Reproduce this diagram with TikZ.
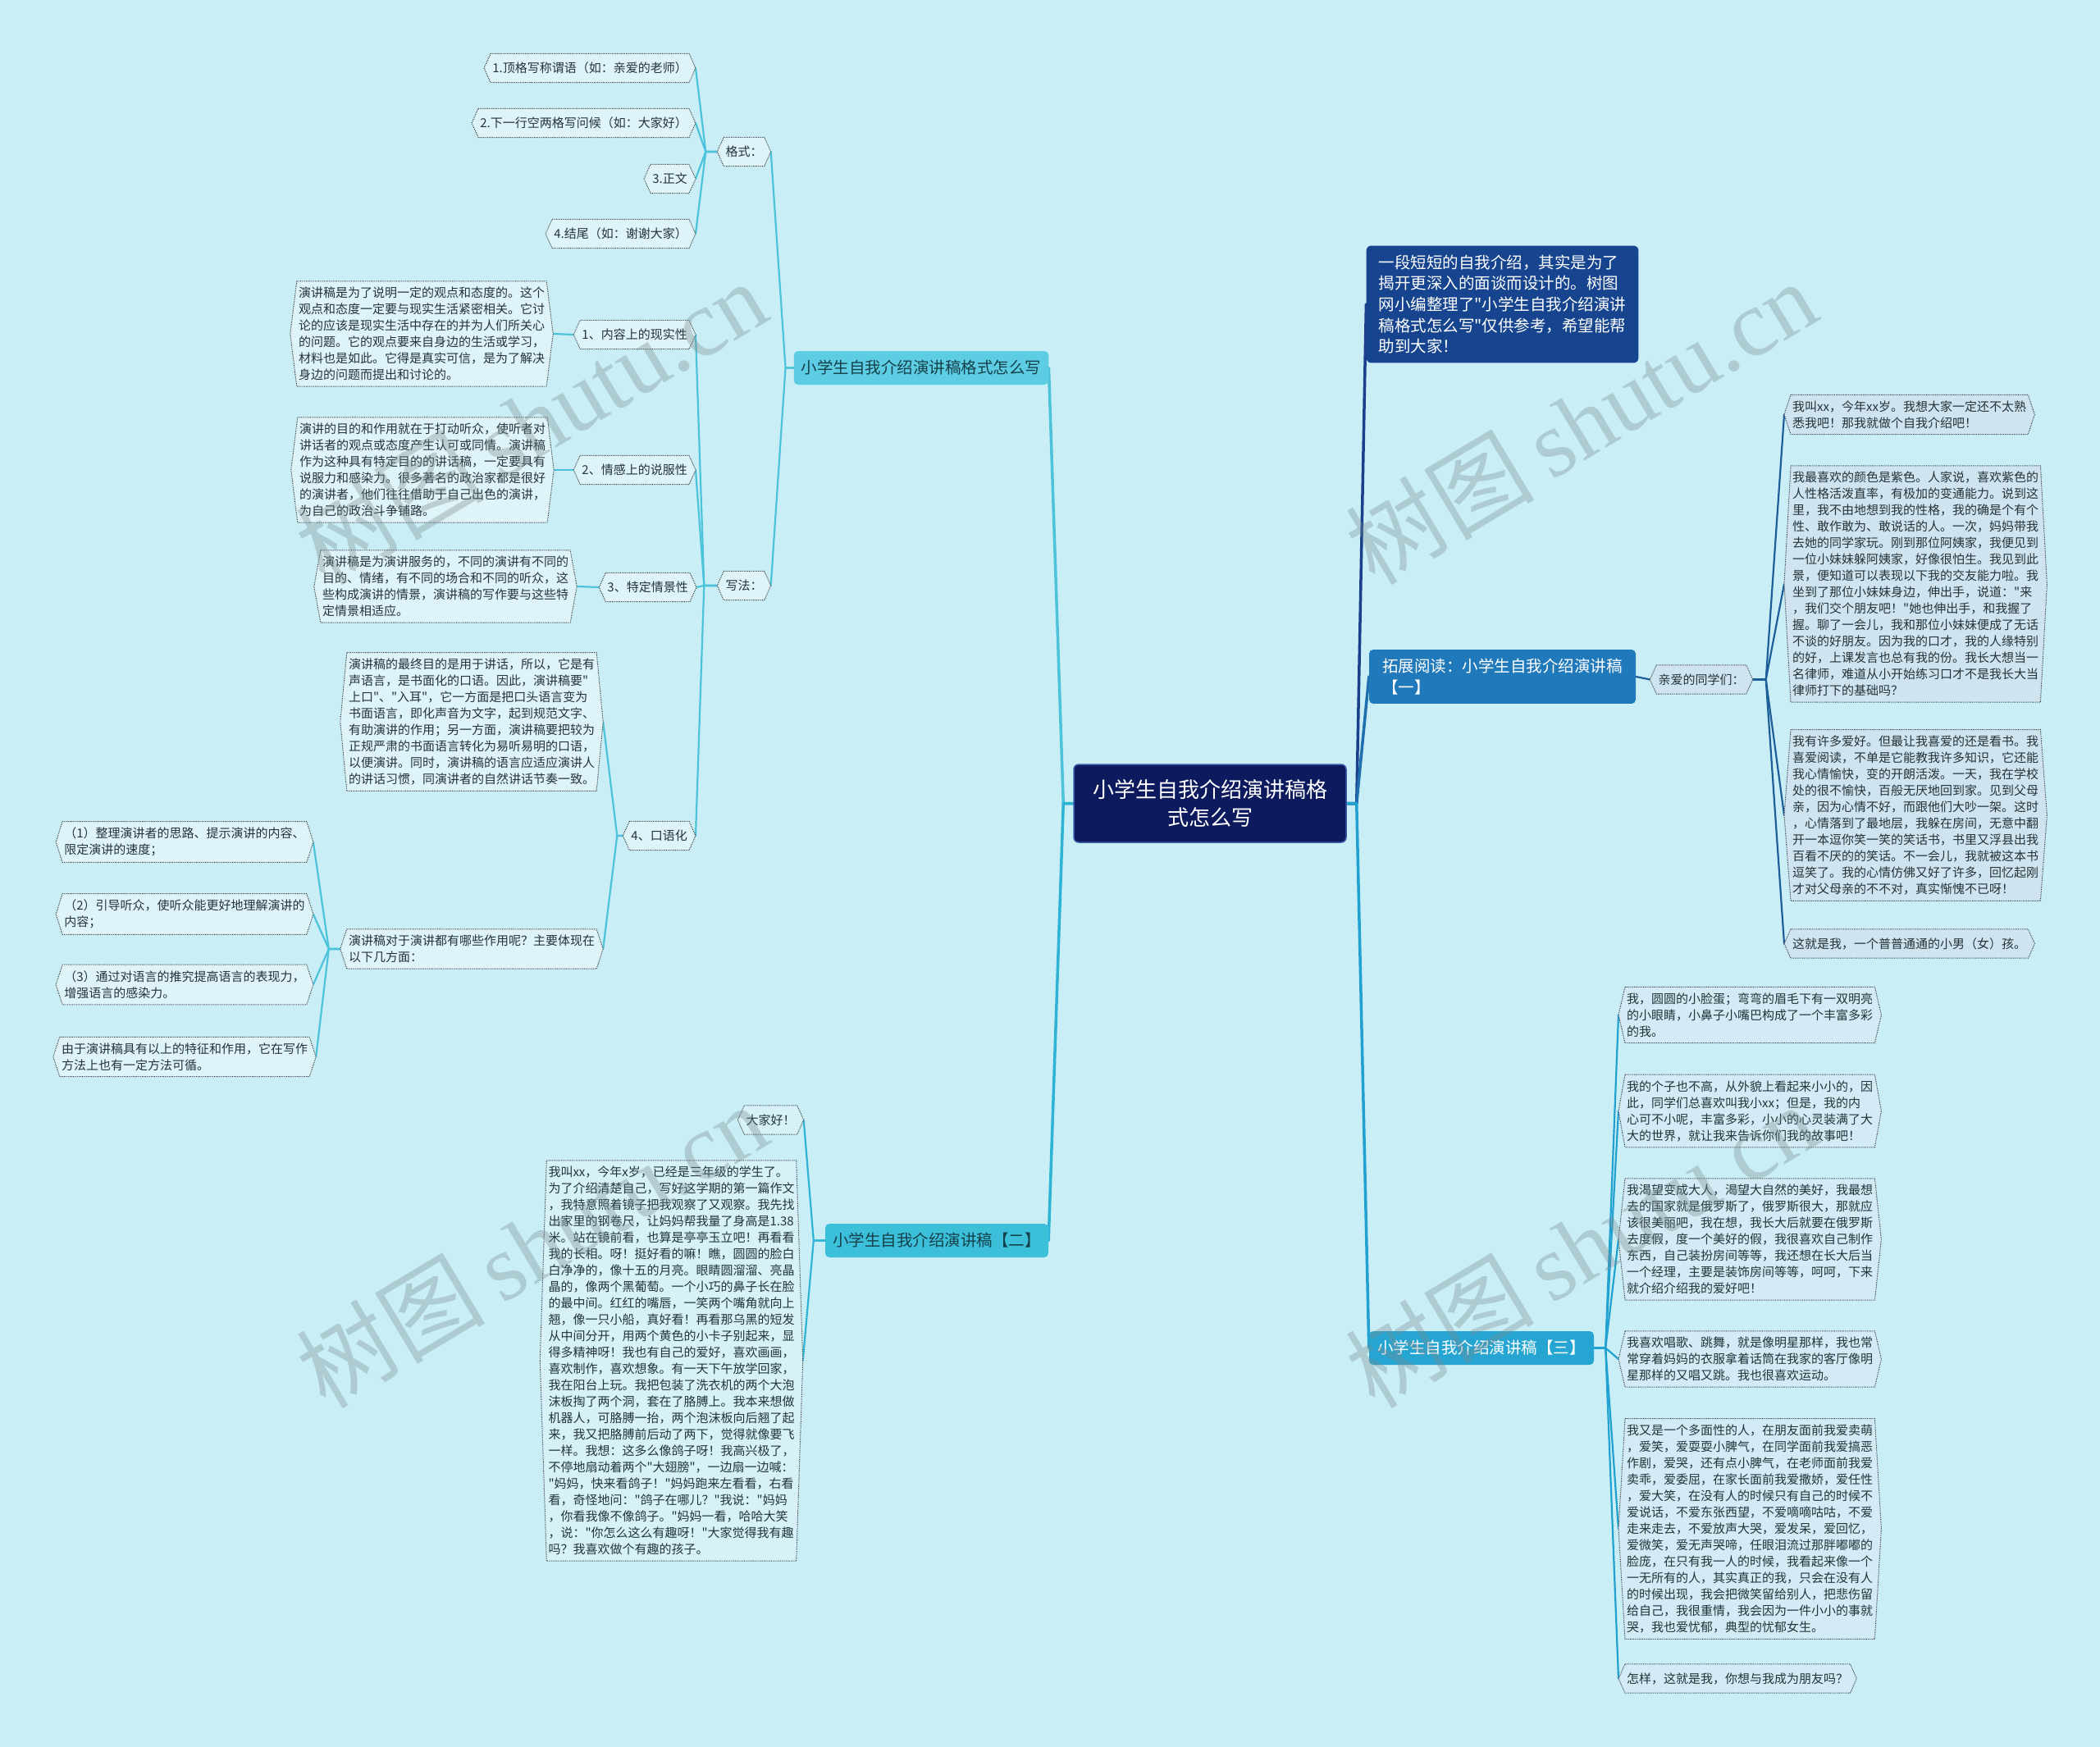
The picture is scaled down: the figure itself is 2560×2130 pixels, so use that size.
\documentclass[tikz,border=0pt]{standalone}
\usepackage{fontspec}
\setmainfont{Noto Sans CJK SC}[Ligatures=TeXOff]
\newfontfamily\wmserif{Liberation Serif}
\usetikzlibrary{backgrounds,calc}
\definecolor{bgc}{HTML}{C9EEF6}
\definecolor{rootc}{HTML}{0D1B5E}
\definecolor{rootedge}{HTML}{3A5AA8}
\definecolor{introc}{HTML}{16448E}
\definecolor{b1c}{HTML}{2079BA}
\definecolor{b3c}{HTML}{26A5D3}
\definecolor{L1c}{HTML}{5DCDE3}
\definecolor{b2c}{HTML}{3CC0DA}
\definecolor{lnL}{HTML}{4DC3DB}
\definecolor{lnB}{HTML}{2FB3D5}
\definecolor{lnI}{HTML}{1B3F8A}
\definecolor{lnA}{HTML}{1F6FAF}
\definecolor{lnAs}{HTML}{1C5E98}
\definecolor{lnC}{HTML}{20A1D0}
\definecolor{hxL}{HTML}{DFF4F9}
\definecolor{hxB}{HTML}{D6F1F7}
\definecolor{hxA}{HTML}{CFE4EF}
\definecolor{hxC}{HTML}{D2EBF4}
\definecolor{dotc}{HTML}{3A3A3A}
\definecolor{txtc}{HTML}{23343A}
\definecolor{darktxt}{HTML}{15404A}
\definecolor{wmc}{HTML}{7A8A8E}
\begin{document}
\begin{tikzpicture}[x=1pt,y=-1pt,
  sm/.style={font=\fontsize{15}{20}\selectfont, text=txtc},
  para/.style={sm, align=left, inner xsep=2pt, inner ysep=7pt},
  lab/.style={sm, inner xsep=2pt, inner ysep=0pt, minimum height=35pt},
  rootbox/.style={fill=rootc, draw=rootedge, line width=1.5pt, rounded corners=6pt, text=white,
    font=\fontsize{26}{34}\selectfont, align=center, minimum width=332pt, minimum height=95pt},
  introbox/.style={fill=introc, rounded corners=6pt, text=white, font=\fontsize{19.5}{25.7}\selectfont,
    align=left, inner xsep=15pt, inner ysep=11pt},
  brbox/.style={rounded corners=5pt, font=\fontsize{19.5}{25.7}\selectfont, inner xsep=9pt,
    inner ysep=0pt, minimum height=41pt},
  hexline/.style={draw=dotc, line width=1pt, dash pattern=on 1pt off 1.2pt},
  mainln/.style={line width=3.5pt, line join=round, line cap=round},
  subln/.style={line width=2.2pt, line join=round, line cap=round},
  wm/.style={text=wmc, opacity=0.35, rotate=31, font=\fontsize{115}{120}\selectfont}
]
\useasboundingbox (0,0) rectangle (2560,2130);

% ---------- root and first level ----------
\node[rootbox] (ctr) at (1475,979.5) {小学生自我介绍演讲稿格\\式怎么写};
\node[introbox] (intro) at (1831.5,371) {一段短短的自我介绍，其实是为了\\揭开更深入的面谈而设计的。树图\\网小编整理了"小学生自我介绍演讲\\稿格式怎么写"仅供参考，希望能帮\\助到大家！};
\node[brbox, fill=b1c, text=white, align=left, inner ysep=11pt, minimum height=0pt, minimum width=325pt] (b1) at (1831.5,825) {拓展阅读：小学生自我介绍演讲稿\\【一】};
\node[brbox, fill=b3c, text=white, minimum width=274pt] (b3) at (1806,1643.5) {小学生自我介绍演讲稿【三】};
\node[brbox, fill=L1c, text=darktxt, minimum width=310pt] (L1) at (1123,448.5) {小学生自我介绍演讲稿格式怎么写};
\node[brbox, fill=b2c, text=darktxt, minimum width=272pt] (b2) at (1142,1512.5) {小学生自我介绍演讲稿【二】};

% ---------- format branch ----------
\node[lab] (fmt) at (907,185) {格式：};
\node[lab, anchor=east] (f1) at (840,83) {1.顶格写称谓语（如：亲爱的老师）};
\node[lab, anchor=east] (f2) at (840,150) {2.下一行空两格写问候（如：大家好）};
\node[lab, anchor=east] (f3) at (840,218) {3.正文};
\node[lab, anchor=east] (f4) at (840,285) {4.结尾（如：谢谢大家）};

\node[lab] (wf) at (907,714) {写法：};
\node[lab, anchor=east] (w1) at (840,408) {1、内容上的现实性};
\node[lab, anchor=east] (w2) at (840,573) {2、情感上的说服性};
\node[lab, anchor=east] (w3) at (841,716) {3、特定情景性};
\node[lab, anchor=east] (w4) at (840,1019) {4、口语化};

\node[para] (p1) at (514,407) {演讲稿是为了说明一定的观点和态度的。这个\\观点和态度一定要与现实生活紧密相关。它讨\\论的应该是现实生活中存在的并为人们所关心\\的问题。它的观点要来自身边的生活或学习，\\材料也是如此。它得是真实可信，是为了解决\\身边的问题而提出和讨论的。};
\node[para] (p2) at (515,573) {演讲的目的和作用就在于打动听众，使听者对\\讲话者的观点或态度产生认可或同情。演讲稿\\作为这种具有特定目的的讲话稿，一定要具有\\说服力和感染力。很多著名的政治家都是很好\\的演讲者，他们往往借助于自己出色的演讲，\\为自己的政治斗争铺路。};
\node[para] (p3) at (543,715) {演讲稿是为演讲服务的，不同的演讲有不同的\\目的、情绪，有不同的场合和不同的听众，这\\些构成演讲的情景，演讲稿的写作要与这些特\\定情景相适应。};
\node[para] (p4) at (575,880) {演讲稿的最终目的是用于讲话，所以，它是有\\声语言，是书面化的口语。因此，演讲稿要"\\上口"、"入耳"，它一方面是把口头语言变为\\书面语言，即化声音为文字，起到规范文字、\\有助演讲的作用；另一方面，演讲稿要把较为\\正规严肃的书面语言转化为易听易明的口语，\\以便演讲。同时，演讲稿的语言应适应演讲人\\的讲话习惯，同演讲者的自然讲话节奏一致。};
\node[para] (q) at (575,1157) {演讲稿对于演讲都有哪些作用呢？主要体现在\\以下几方面：};
\node[para] (r1) at (225,1026.5) {（1）整理演讲者的思路、提示演讲的内容、\\限定演讲的速度；};
\node[para] (r2) at (225,1114.5) {（2）引导听众，使听众能更好地理解演讲的\\内容；};
\node[para] (r3) at (225,1200.5) {（3）通过对语言的推究提高语言的表现力，\\增强语言的感染力。};
\node[para] (r4) at (225,1288.5) {由于演讲稿具有以上的特征和作用，它在写作\\方法上也有一定方法可循。};

% ---------- branch two ----------
\node[lab] (hi) at (939.5,1365.5) {大家好！};
\node[para] (e) at (818.5,1659) {我叫xx，今年x岁，已经是三年级的学生了。\\为了介绍清楚自己，写好这学期的第一篇作文\\，我特意照着镜子把我观察了又观察。我先找\\出家里的钢卷尺，让妈妈帮我量了身高是1.38\\米。站在镜前看，也算是亭亭玉立吧！再看看\\我的长相。呀！挺好看的嘛！瞧，圆圆的脸白\\白净净的，像十五的月亮。眼睛圆溜溜、亮晶\\晶的，像两个黑葡萄。一个小巧的鼻子长在脸\\的最中间。红红的嘴唇，一笑两个嘴角就向上\\翘，像一只小船，真好看！再看那乌黑的短发\\从中间分开，用两个黄色的小卡子别起来，显\\得多精神呀！我也有自己的爱好，喜欢画画，\\喜欢制作，喜欢想象。有一天下午放学回家，\\我在阳台上玩。我把包装了洗衣机的两个大泡\\沫板掏了两个洞，套在了胳膊上。我本来想做\\机器人，可胳膊一抬，两个泡沫板向后翘了起\\来，我又把胳膊前后动了两下，觉得就像要飞\\一样。我想：这多么像鸽子呀！我高兴极了，\\不停地扇动着两个"大翅膀"，一边扇一边喊：\\"妈妈，快来看鸽子！"妈妈跑来左看看，右看\\看，奇怪地问："鸽子在哪儿？"我说："妈妈\\，你看我像不像鸽子。"妈妈一看，哈哈大笑\\，说："你怎么这么有趣呀！"大家觉得我有趣\\吗？我喜欢做个有趣的孩子。};

% ---------- branch one ----------
\node[lab] (dear) at (2074,828.5) {亲爱的同学们：};
\node[para, anchor=west] (c1) at (2183,505.5) {我叫xx，今年xx岁。我想大家一定还不太熟\\悉我吧！那我就做个自我介绍吧！};
\node[para, anchor=west] (c2) at (2183,712) {我最喜欢的颜色是紫色。人家说，喜欢紫色的\\人性格活泼直率，有极加的变通能力。说到这\\里，我不由地想到我的性格，我的确是个有个\\性、敢作敢为、敢说话的人。一次，妈妈带我\\去她的同学家玩。刚到那位阿姨家，我便见到\\一位小妹妹躲阿姨家，好像很怕生。我见到此\\景，便知道可以表现以下我的交友能力啦。我\\坐到了那位小妹妹身边，伸出手，说道："来\\，我们交个朋友吧！"她也伸出手，和我握了\\握。聊了一会儿，我和那位小妹妹便成了无话\\不谈的好朋友。因为我的口才，我的人缘特别\\的好，上课发言也总有我的份。我长大想当一\\名律师，难道从小开始练习口才不是我长大当\\律师打下的基础吗？};
\node[para, anchor=west] (c3) at (2183,994) {我有许多爱好。但最让我喜爱的还是看书。我\\喜爱阅读，不单是它能教我许多知识，它还能\\我心情愉快，变的开朗活泼。一天，我在学校\\处的很不愉快，百般无厌地回到家。见到父母\\亲，因为心情不好，而跟他们大吵一架。这时\\，心情落到了最地层，我躲在房间，无意中翻\\开一本逗你笑一笑的笑话书，书里又浮县出我\\百看不厌的的笑话。不一会儿，我就被这本书\\逗笑了。我的心情仿佛又好了许多，回忆起刚\\才对父母亲的不不对，真实惭愧不已呀！};
\node[lab, anchor=west] (c4) at (2183,1150.5) {这就是我，一个普普通通的小男（女）孩。};

% ---------- branch three ----------
\node[para, anchor=west] (d1) at (1981,1237.5) {我，圆圆的小脸蛋；弯弯的眉毛下有一双明亮\\的小眼睛，小鼻子小嘴巴构成了一个丰富多彩\\的我。};
\node[para, anchor=west] (d2) at (1981,1354.5) {我的个子也不高，从外貌上看起来小小的，因\\此，同学们总喜欢叫我小xx；但是，我的内\\心可不小呢，丰富多彩，小小的心灵装满了大\\大的世界，就让我来告诉你们我的故事吧！};
\node[para, anchor=west] (d3) at (1981,1511) {我渴望变成大人，渴望大自然的美好，我最想\\去的国家就是俄罗斯了，俄罗斯很大，那就应\\该很美丽吧，我在想，我长大后就要在俄罗斯\\去度假，度一个美好的假，我很喜欢自己制作\\东西，自己装扮房间等等，我还想在长大后当\\一个经理，主要是装饰房间等等，呵呵，下来\\就介绍介绍我的爱好吧！};
\node[para, anchor=west] (d4) at (1981,1657) {我喜欢唱歌、跳舞，就是像明星那样，我也常\\常穿着妈妈的衣服拿着话筒在我家的客厅像明\\星那样的又唱又跳。我也很喜欢运动。};
\node[para, anchor=west] (d5) at (1981,1864) {我又是一个多面性的人，在朋友面前我爱卖萌\\，爱笑，爱耍耍小脾气，在同学面前我爱搞恶\\作剧，爱哭，还有点小脾气，在老师面前我爱\\卖乖，爱委屈，在家长面前我爱撒娇，爱任性\\，爱大笑，在没有人的时候只有自己的时候不\\爱说话，不爱东张西望，不爱嘀嘀咕咕，不爱\\走来走去，不爱放声大哭，爱发呆，爱回忆，\\爱微笑，爱无声哭啼，任眼泪流过那胖嘟嘟的\\脸庞，在只有我一人的时候，我看起来像一个\\一无所有的人，其实真正的我，只会在没有人\\的时候出现，我会把微笑留给别人，把悲伤留\\给自己，我很重情，我会因为一件小小的事就\\哭，我也爱忧郁，典型的忧郁女生。};
\node[lab, anchor=west] (d6) at (1981,2046.5) {怎样，这就是我，你想与我成为朋友吗？};

% ---------- background: fill, connectors, hexagons ----------
\begin{scope}[on background layer]
\fill[bgc] (0,0) rectangle (2560,2130);
\draw[mainln, draw=lnL] (ctr.west) -- ++(-12,0) -- (L1.east);
\draw[mainln, draw=lnB] (ctr.west) -- ++(-12,0) -- (b2.east);
\draw[mainln, draw=lnI] (ctr.east) -- ++(12,0) -- (intro.west);
\draw[mainln, draw=lnA] (ctr.east) -- ++(12,0) -- (b1.west);
\draw[mainln, draw=lnC] (ctr.east) -- ++(12,0) -- (b3.west);

\draw[subln, draw=lnL] (L1.west) -- ++(-10,0) -- ([xshift=8pt]fmt.east);
\draw[subln, draw=lnL] (L1.west) -- ++(-10,0) -- ([xshift=8pt]wf.east);
\foreach \k in {f1,f2,f3,f4}
  \draw[subln, draw=lnL] ([xshift=-8pt]fmt.west) -- ++(-14,0) -- ([xshift=8pt]\k.east);
\foreach \k in {w1,w2,w3,w4}
  \draw[subln, draw=lnL] ([xshift=-8pt]wf.west) -- ++(-16,0) -- ([xshift=8pt]\k.east);
\draw[subln, draw=lnL] ([xshift=-8pt]w1.west) -- ([xshift=8pt]p1.east);
\draw[subln, draw=lnL] ([xshift=-8pt]w2.west) -- ([xshift=8pt]p2.east);
\draw[subln, draw=lnL] ([xshift=-8pt]w3.west) -- ([xshift=8pt]p3.east);
\draw[subln, draw=lnL] ([xshift=-8pt]w4.west) -- ++(-7,0) -- ([xshift=8pt]p4.east);
\draw[subln, draw=lnL] ([xshift=-8pt]w4.west) -- ++(-7,0) -- ([xshift=8pt]q.east);
\foreach \k in {r1,r2,r3,r4}
  \draw[subln, draw=lnL] ([xshift=-8pt]q.west) -- ++(-14,0) -- ([xshift=8pt]\k.east);

\draw[subln, draw=lnB] (b2.west) -- ++(-14,0) -- ([xshift=8pt]hi.east);
\draw[subln, draw=lnB] (b2.west) -- ++(-14,0) -- ([xshift=8pt]e.east);

\draw[subln, draw=lnAs] (b1.east) -- ([xshift=-8pt]dear.west);
\foreach \k in {c1,c2,c3,c4}
  \draw[subln, draw=lnAs] ([xshift=8pt]dear.east) -- ++(16,0) -- ([xshift=-8pt]\k.west);
\foreach \k in {d1,d2,d3,d4,d5,d6}
  \draw[subln, draw=lnC] (b3.east) -- ++(14,0) -- ([xshift=-8pt]\k.west);

\foreach \n/\fc in {fmt/hxL,f1/hxL,f2/hxL,f3/hxL,f4/hxL,wf/hxL,w1/hxL,w2/hxL,w3/hxL,w4/hxL,
    p1/hxL,p2/hxL,p3/hxL,p4/hxL,q/hxL,r1/hxL,r2/hxL,r3/hxL,r4/hxL,
    hi/hxB,e/hxB,dear/hxA,c1/hxA,c2/hxA,c3/hxA,c4/hxA,
    d1/hxC,d2/hxC,d3/hxC,d4/hxC,d5/hxC,d6/hxC}
  \filldraw[hexline, fill=\fc] (\n.north west) -- (\n.north east) -- ([xshift=8pt]\n.east)
    -- (\n.south east) -- (\n.south west) -- ([xshift=-8pt]\n.west) -- cycle;
\end{scope}

% ---------- watermarks ----------
\node[wm] (wm1) at (647,514) {树图\hspace{20pt}{\wmserif shutu.cn}};
\node[wm] (wm2) at (1927,514) {树图\hspace{20pt}{\wmserif shutu.cn}};
\node[wm] (wm3) at (648,1518) {树图\hspace{20pt}{\wmserif shutu.cn}};
\node[wm] (wm4) at (1927,1518) {树图\hspace{20pt}{\wmserif shutu.cn}};
\end{tikzpicture}
\end{document}
